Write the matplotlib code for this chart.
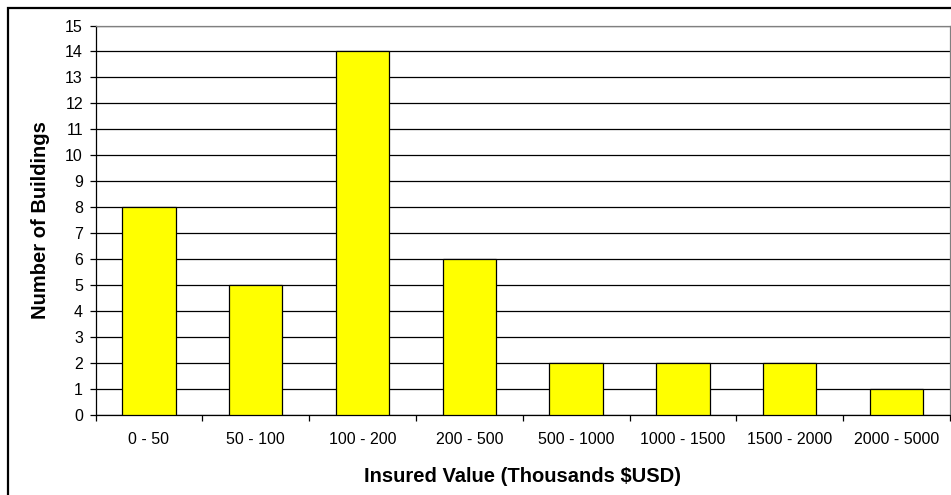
import matplotlib
matplotlib.use("Agg")
import matplotlib.pyplot as plt
from matplotlib.patches import Rectangle

plt.rcParams['font.family'] = ['Liberation Sans', 'DejaVu Sans']

categories = ["0 - 50", "50 - 100", "100 - 200", "200 - 500",
              "500 - 1000", "1000 - 1500", "1500 - 2000", "2000 - 5000"]
counts = [8, 5, 14, 6, 2, 2, 2, 1]
y_ticks = list(range(0, 16))

W, H = 951, 495
fig = plt.figure(figsize=(W / 100, H / 100), dpi=100)

# outer chart border (runs off the right and bottom edges)
fig.patches.append(Rectangle((8 / W, -0.05), 1.1, 1 - 8 / H + 0.05,
                             transform=fig.transFigure, fill=False,
                             edgecolor='black', linewidth=1.6))

left, right = 95.5 / W, 950 / W
bottom, top = 1 - 415 / H, 1 - 25.5 / H
ax = fig.add_axes([left, bottom, right - left, top - bottom])

x = range(len(categories))
ax.bar(x, counts, width=0.5, color='#FFFF00', edgecolor='black',
       linewidth=0.9, zorder=3)

ax.set_xlim(-0.5, len(categories) - 0.5)
ax.set_ylim(0, 15)
ax.set_yticks(y_ticks)
ax.set_yticklabels([str(t) for t in y_ticks], fontsize=11.5)
ax.yaxis.grid(True, color='black', linewidth=0.9, zorder=0)
ax.set_axisbelow(True)

# category labels centred, tick marks at category boundaries
ax.set_xticks([i for i in x])
ax.set_xticklabels(categories, fontsize=11.5)
ax.tick_params(axis='x', length=0, pad=12)
ax.set_xticks([i - 0.5 for i in range(len(categories) + 1)], minor=True)
ax.tick_params(axis='x', which='minor', length=4, width=0.9, direction='out')
ax.tick_params(axis='y', length=4, width=0.9, direction='out', pad=5)

for side in ['top', 'right']:
    ax.spines[side].set_color('#808080')
    ax.spines[side].set_linewidth(0.9)
for side in ['left', 'bottom']:
    ax.spines[side].set_color('black')
    ax.spines[side].set_linewidth(0.9)

# axis titles
fig.text((95.5 + 950) / 2 / W, 1 - 477 / H, "Insured Value (Thousands $USD)",
         fontsize=14.5, fontweight='bold', ha='center', va='center')
fig.text(41 / W, 1 - 220 / H, "Number of Buildings", rotation=90,
         fontsize=14.5, fontweight='bold', ha='center', va='center')

fig.savefig("out.png", dpi=100)
